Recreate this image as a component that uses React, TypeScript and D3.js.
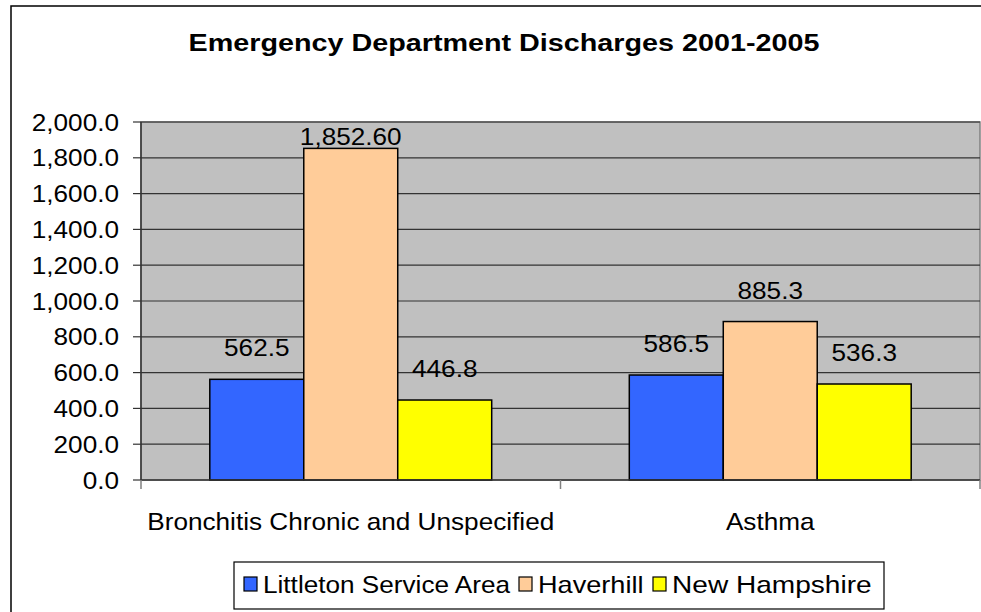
import React from "react";
import * as d3 from "d3";

const categories = ["Bronchitis Chronic and Unspecified", "Asthma"];
const seriesNames = ["Littleton Service Area", "Haverhill", "New Hampshire"];
const littleton = [562.5, 586.5];
const haverhill = [1852.6, 885.3];
const newHampshire = [446.8, 536.3];
const valueLabels = [["562.5", "586.5"], ["1,852.60", "885.3"], ["446.8", "536.3"]];
const yTicks = [0, 200, 400, 600, 800, 1000, 1200, 1400, 1600, 1800, 2000];
const colors = ["#3366FF", "#FFCC99", "#FFFF00"];

const W = 981;
const H = 612;
const plot = { left: 141, right: 980, top: 122, bottom: 480 };
const SX = 1.09;
const FS = 24;

function SText({ x, y, anchor = "middle", size = FS, weight = "normal", sx = SX, children }: any) {
  return (
    <g transform={`translate(${x},${y}) scale(${sx},1)`}>
      <text
        x={0}
        y={0}
        textAnchor={anchor}
        fontFamily="Arial, 'Liberation Sans', sans-serif"
        fontSize={size}
        fontWeight={weight}
        fill="#000"
      >
        {children}
      </text>
    </g>
  );
}

export default function App() {
  const series = [littleton, haverhill, newHampshire];
  const y = d3.scaleLinear().domain([0, 2000]).range([plot.bottom, plot.top]);
  const x0 = d3.scaleBand<string>().domain(categories).range([plot.left, plot.right]).padding(0);
  const groupW = x0.bandwidth() * 0.672;
  const x1 = d3.scaleBand<number>().domain([0, 1, 2]).range([0, groupW]).padding(0);
  const fmt = d3.format(",.1f");

  const legendItems = [
    { sq: 244, tx: 263, sx: 1.09 },
    { sq: 519, tx: 538, sx: 1.13 },
    { sq: 653, tx: 672, sx: 1.17 },
  ];

  return (
    <svg
      width={W}
      height={H}
      style={{ position: "absolute", left: 0, top: 0, background: "#fff" }}
    >
      {/* outer chart border */}
      <rect x={11} y={6} width={990} height={620} fill="#fff" stroke="#000" strokeWidth={1.5} />

      {/* title */}
      <SText x={504} y={51} size={23} weight="bold" sx={1.25}>
        Emergency Department Discharges 2001-2005
      </SText>

      {/* plot area */}
      <rect
        x={plot.left}
        y={plot.top}
        width={plot.right - plot.left}
        height={plot.bottom - plot.top}
        fill="#C0C0C0"
        stroke="#808080"
        strokeWidth={1.5}
      />

      {/* gridlines */}
      {yTicks.slice(1).map((t) => (
        <line key={"g" + t} x1={plot.left} x2={plot.right} y1={y(t)} y2={y(t)} stroke="#333" strokeWidth={1.2} />
      ))}

      {/* y axis */}
      <line x1={plot.left} x2={plot.left} y1={plot.top} y2={plot.bottom} stroke="#333" strokeWidth={1.5} />
      {yTicks.map((t) => (
        <g key={"t" + t}>
          <line x1={plot.left - 8} x2={plot.left} y1={y(t)} y2={y(t)} stroke="#333" strokeWidth={1.2} />
          <SText x={119} y={y(t) + 8.5} anchor="end">
            {fmt(t)}
          </SText>
        </g>
      ))}

      {/* bars */}
      {categories.map((c, ci) => {
        const gx = (x0(c) as number) + (x0.bandwidth() - groupW) / 2;
        return (
          <g key={c}>
            {series.map((s, si) => {
              const bx = gx + (x1(si) as number);
              const top = y(s[ci]);
              return (
                <rect
                  key={si}
                  x={bx}
                  y={top}
                  width={x1.bandwidth()}
                  height={plot.bottom - top}
                  fill={colors[si]}
                  stroke="#000"
                  strokeWidth={1.5}
                />
              );
            })}
          </g>
        );
      })}

      {/* x axis */}
      <line x1={plot.left} x2={plot.right} y1={plot.bottom} y2={plot.bottom} stroke="#333" strokeWidth={1.5} />
      {[0, 1, 2].map((i) => {
        const xx = plot.left + i * x0.bandwidth();
        return <line key={"xt" + i} x1={xx} x2={xx} y1={plot.bottom} y2={plot.bottom + 9} stroke="#808080" strokeWidth={1.5} />;
      })}

      {/* value labels */}
      {categories.map((c, ci) => {
        const gx = (x0(c) as number) + (x0.bandwidth() - groupW) / 2;
        return series.map((s, si) => {
          const cx = gx + (x1(si) as number) + x1.bandwidth() / 2;
          const top = y(s[ci]);
          const by = Math.max(top - 23, plot.top + 22.5);
          return (
            <SText key={c + si} x={cx} y={by}>
              {valueLabels[si][ci]}
            </SText>
          );
        });
      })}

      {/* category labels */}
      {categories.map((c) => (
        <SText key={"cl" + c} x={(x0(c) as number) + x0.bandwidth() / 2} y={530}>
          {c}
        </SText>
      ))}

      {/* legend */}
      <rect x={234} y={562} width={650} height={47} fill="#fff" stroke="#000" strokeWidth={1.2} />
      {seriesNames.map((n, i) => (
        <g key={n}>
          <rect x={legendItems[i].sq} y={577} width={13} height={14} fill={colors[i]} stroke="#000" strokeWidth={1.2} />
          <SText x={legendItems[i].tx} y={593} anchor="start" sx={legendItems[i].sx}>
            {n}
          </SText>
        </g>
      ))}
    </svg>
  );
}
